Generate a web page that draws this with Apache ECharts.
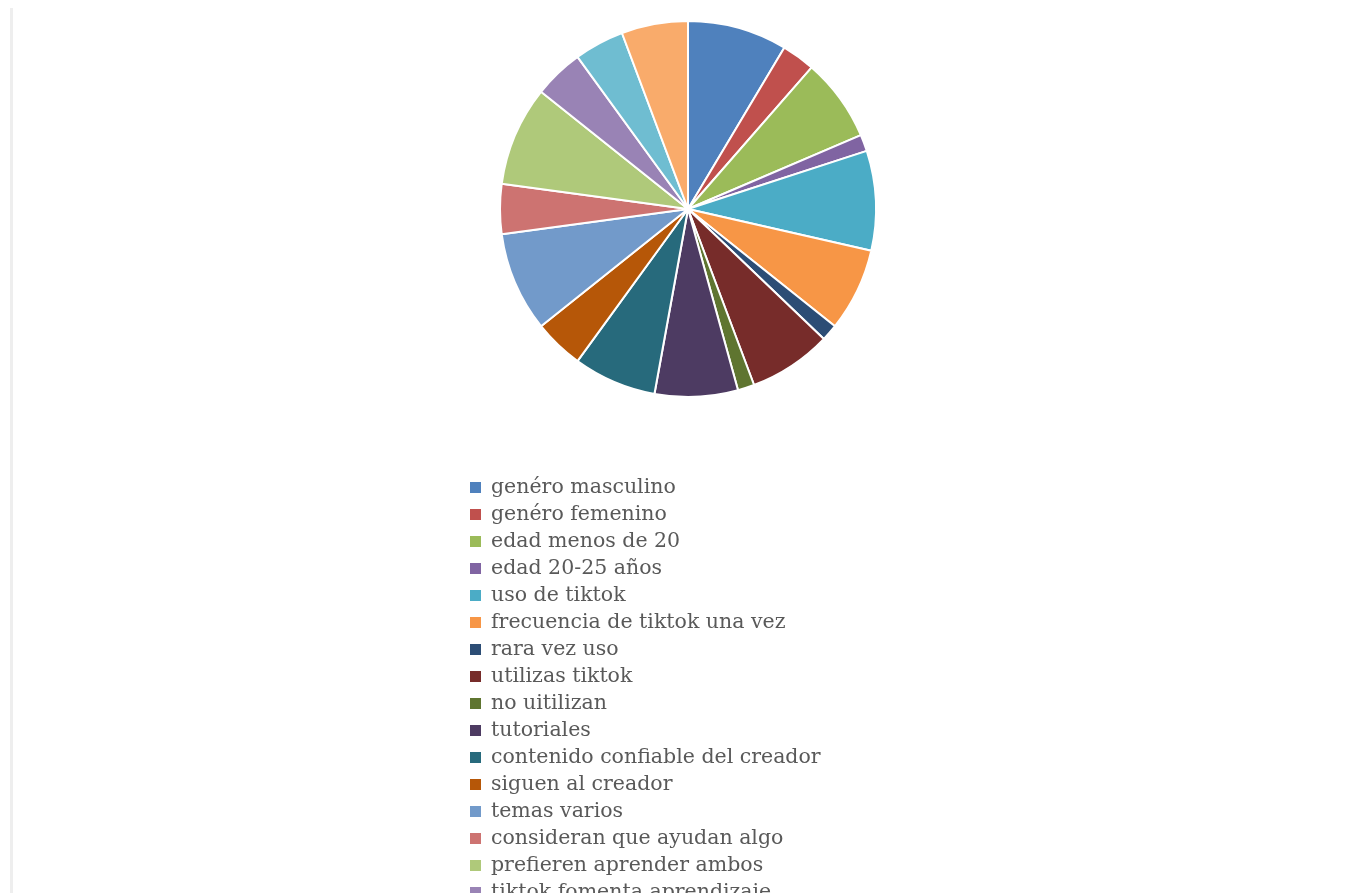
<!DOCTYPE html>
<html>
<head>
<meta charset="utf-8">
<script src="https://cdn.jsdelivr.net/npm/echarts@6/dist/echarts.min.js"></script>
<style>
html,body{margin:0;padding:0;background:#fff;}
#chart{width:1353px;height:893px;}
</style>
</head>
<body>
<div id="chart"></div>
<script>
const categories = [
  "genéro masculino",
  "genéro femenino",
  "edad menos de 20",
  "edad 20-25 años",
  "uso de tiktok",
  "frecuencia de tiktok una vez",
  "rara vez uso",
  "utilizas tiktok",
  "no uitilizan",
  "tutoriales",
  "contenido confiable del creador",
  "siguen al creador",
  "temas varios",
  "consideran que ayudan algo",
  "prefieren aprender ambos",
  "tiktok fomenta aprendizaje",
  "tiktok no fomenta aprendizaje",
  "aprenden en clases"
];
const values = [6, 2, 5, 1, 6, 5, 1, 5, 1, 5, 5, 3, 6, 3, 6, 3, 3, 4];
const colors = [
  "#4F81BD", "#C0504D", "#9BBB59", "#8064A2", "#4BACC6", "#F79646",
  "#2C4D75", "#772C2A", "#5F7530", "#4D3B62", "#276A7C", "#B65708",
  "#729ACA", "#CD7371", "#AFC97A", "#9983B5", "#6FBDD1", "#F9AB6B"
];

const chart = echarts.init(document.getElementById('chart'));
chart.setOption({
  backgroundColor: '#ffffff',
  animation: false,
  color: colors,
  graphic: [{
    type: 'rect',
    shape: { x: 10, y: 8, width: 3, height: 900 },
    style: { fill: '#eeeeee' }
  }],
  legend: {
    orient: 'vertical',
    left: 470,
    top: 477,
    padding: 0,
    height: 2000,
    itemWidth: 11,
    itemHeight: 11,
    itemGap: 6,
    icon: 'rect',
    itemStyle: { borderWidth: 0 },
    textStyle: {
      fontFamily: 'DejaVu Serif',
      fontSize: 20.5,
      color: '#595959',
      lineHeight: 21,
      padding: [0, 0, 0, 5]
    },
    data: categories
  },
  series: [{
    type: 'pie',
    center: [688, 209],
    radius: [0, 188],
    startAngle: 90,
    clockwise: true,
    label: { show: false },
    labelLine: { show: false },
    itemStyle: { borderColor: '#ffffff', borderWidth: 2 },
    data: categories.map((c, i) => ({ name: c, value: values[i] }))
  }]
});
</script>
</body>
</html>
